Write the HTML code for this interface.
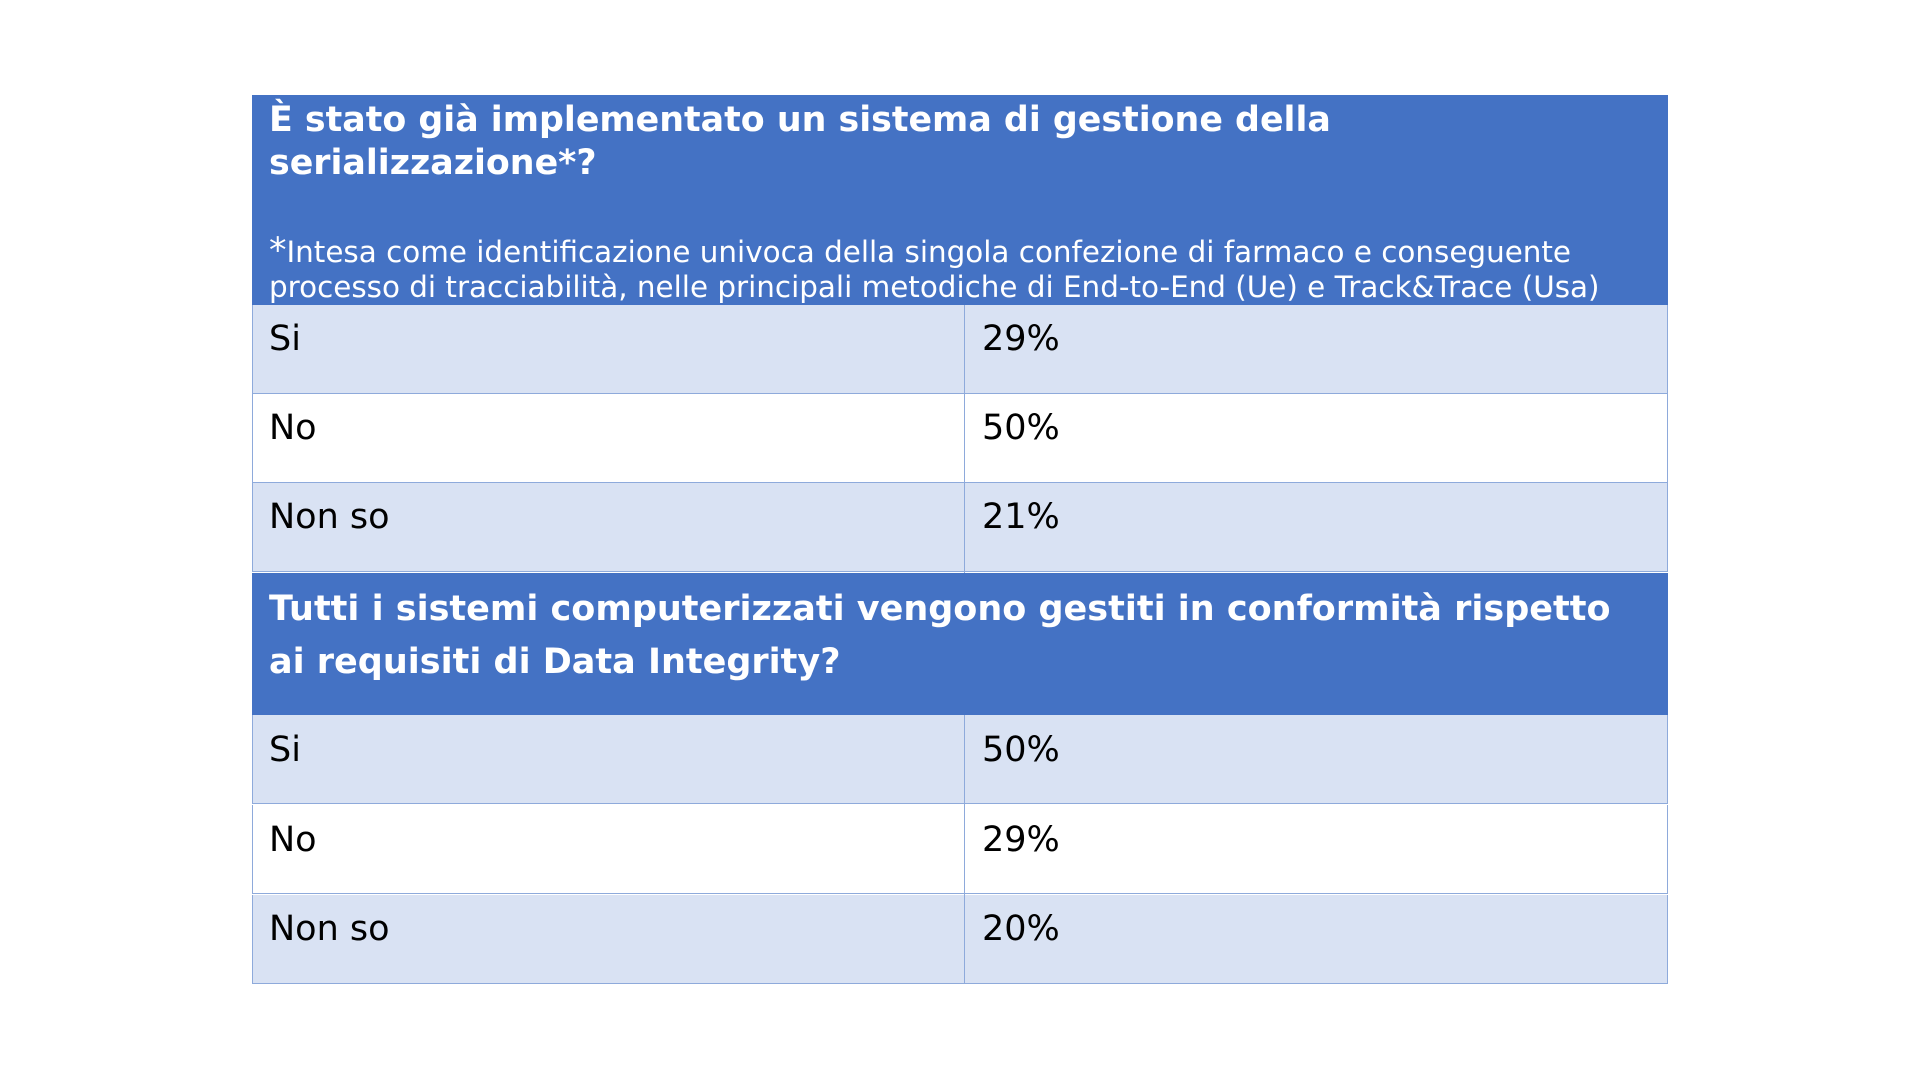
<!DOCTYPE html>
<html><head><meta charset="utf-8"><style>
body{margin:0;width:1920px;height:1080px;background:#fff;position:relative;overflow:hidden;font-family:"DejaVu Sans","Liberation Sans",sans-serif;}
.a{position:absolute;white-space:nowrap;}
.hdr{position:absolute;left:252px;width:1416px;background:#4472C4;}
.row{position:absolute;left:252px;width:1414px;height:88px;border:1px solid #8EAADB;border-top:none;}
.t{position:absolute;line-height:1;color:#000;font-size:35px;}
.w{color:#fff;font-weight:bold;font-size:34.8px;line-height:1;}
</style></head><body>
<div class="hdr" style="top:95px;height:210px;"></div>
<div class="a w" style="left:269px;top:103px;">È stato già implementato un sistema di gestione della</div>
<div class="a w" style="left:269px;top:146px;">serializzazione*?</div>
<div class="a" style="left:269px;top:234px;color:#fff;font-size:29.4px;line-height:1;"><span style="font-size:35px;">*</span>Intesa come identificazione univoca della singola confezione di farmaco e conseguente</div>
<div class="a" style="left:269px;top:273px;color:#fff;font-size:29.4px;line-height:1;">processo di tracciabilità, nelle principali metodiche di End-to-End (Ue) e Track&amp;Trace (Usa)</div>

<div class="row" style="top:305px;background:#D9E2F3;"></div>
<div class="row" style="top:394px;background:#fff;"></div>
<div class="row" style="top:483px;background:#D9E2F3;"></div>
<div class="hdr" style="top:573px;height:142px;"></div>
<div class="a w" style="left:269px;top:592px;font-size:35px;">Tutti i sistemi computerizzati vengono gestiti in conformità rispetto</div>
<div class="a w" style="left:269px;top:645px;font-size:35px;">ai requisiti di Data Integrity?</div>
<div class="row" style="top:715px;background:#D9E2F3;"></div>
<div class="row" style="top:805px;background:#fff;"></div>
<div class="row" style="top:895px;background:#D9E2F3;"></div>
<div style="position:absolute;left:964px;top:305px;width:1px;height:268px;background:#8EAADB;"></div>
<div style="position:absolute;left:964px;top:715px;width:1px;height:269px;background:#8EAADB;"></div>

<div class="t" style="left:269px;top:322px;">Si</div><div class="t" style="left:982px;top:322px;">29%</div>
<div class="t" style="left:269px;top:411px;">No</div><div class="t" style="left:982px;top:411px;">50%</div>
<div class="t" style="left:269px;top:500px;">Non so</div><div class="t" style="left:982px;top:500px;">21%</div>
<div class="t" style="left:269px;top:733px;">Si</div><div class="t" style="left:982px;top:733px;">50%</div>
<div class="t" style="left:269px;top:823px;">No</div><div class="t" style="left:982px;top:823px;">29%</div>
<div class="t" style="left:269px;top:912px;">Non so</div><div class="t" style="left:982px;top:912px;">20%</div>
</body></html>
